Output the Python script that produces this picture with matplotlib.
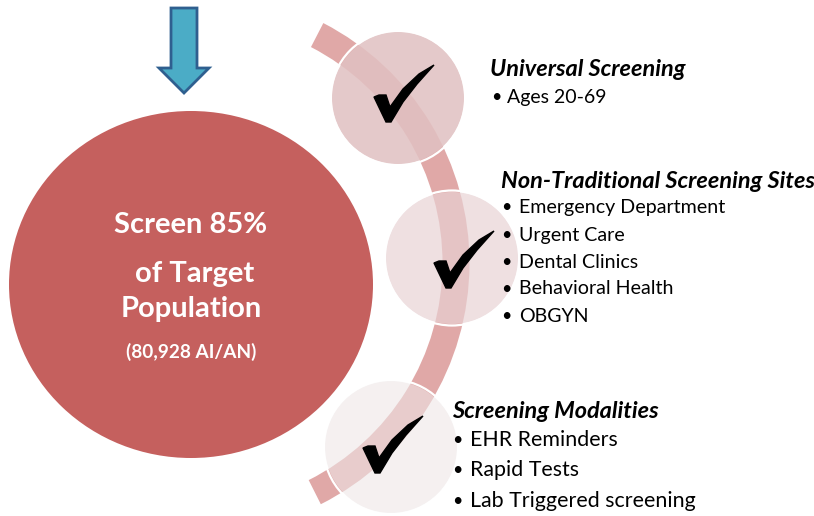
# Screening strategy diagram
import matplotlib
matplotlib.use("Agg")
import matplotlib.pyplot as plt
from matplotlib.patches import Circle, Ellipse, Wedge, Polygon

plt.rcParams['font.family'] = ['Lato', 'DejaVu Sans']

# Text of the chart
main_lines = ['Screen 85%', 'of Target', 'Population']
main_note = '(80,928 AI/AN)'
group_titles = ['Universal Screening', 'Non-Traditional Screening Sites', 'Screening Modalities']
group_items = [
    ['Ages 20-69'],
    ['Emergency Department', 'Urgent Care', 'Dental Clinics', 'Behavioral Health', 'OBGYN'],
    ['EHR Reminders', 'Rapid Tests', 'Lab Triggered screening'],
]

fig = plt.figure(figsize=(8.14, 5.16), dpi=100)
ax = fig.add_axes([0, 0, 1, 1])
ax.set_xlim(0, 814)
ax.set_ylim(516, 0)
ax.axis('off')

# Big circle (a bit squashed in the original)
ax.add_patch(Ellipse((191, 284.5), 364, 347, fc='#C5605E', ec='none'))
for txt, x, y in zip(main_lines, [191, 194.5, 191], [225, 274, 309]):
    ax.text(x, y, txt, color='white', fontsize=21, fontweight='bold', ha='center', va='center')
ax.text(191, 352, main_note, color='white', fontsize=13.7, fontweight='bold', ha='center', va='center')

# Arrow on top
ax.add_patch(Polygon([(171, 8), (197, 8), (197, 68), (209, 68), (184, 93), (159, 68), (171, 68)],
                     fc='#4BACC6', ec='#2F5F8F', lw=2, joinstyle='miter'))

# Arc behind the small circles
ax.add_patch(Wedge((199.5, 263), 270, -62.7, 63.3, width=27, fc='#E0A8A7', ec='none'))

# Small circles
centers = [(398, 98), (452, 258), (391, 447)]
faces = [(225/255, 193/255, 194/255, 0.87), (232/255, 210/255, 212/255, 0.69), (238/255, 231/255, 231/255, 0.59)]
for c, f in zip(centers, faces):
    ax.add_patch(Circle(c, 66, fc=f, ec='none', zorder=3))
    ax.add_patch(Circle(c, 67.5, fc='none', ec='white', lw=1.6, zorder=3))

# Check marks, outline given from the bottom tip
check_shape = [(-3, 0), (-15, -25), (-10, -27), (-3, -27), (1, -15), (14, -33), (30, -48), (45, -57),
               (28, -38), (14, -20), (2, 0)]
tips = [(389, 122), (449, 288), (378, 473)]
for tx, ty in tips:
    ax.add_patch(Polygon([(tx + dx, ty + dy) for dx, dy in check_shape], fc='black', ec='black', lw=1, zorder=4))

# Text groups
title_pos = [(490, 69), (501, 181), (452, 411)]
bullet_x = [496, 506, 457]
text_x = [507, 519, 470]
item_size = [14, 14.1, 15.4]
item_y = [[97], [207, 235, 262, 289, 316], [440, 470, 501]]
for i in range(3):
    ax.text(title_pos[i][0], title_pos[i][1], group_titles[i], fontsize=16.9, fontweight='bold', style='italic',
            color='black', ha='left', va='center', zorder=5)
    for item, y in zip(group_items[i], item_y[i]):
        ax.text(bullet_x[i], y, '\u2022', fontsize=13, color='black', ha='center', va='center', zorder=5)
        ax.text(text_x[i], y, item, fontsize=item_size[i], color='black', ha='left', va='center', zorder=5)

fig.savefig('out.png', dpi=100)
